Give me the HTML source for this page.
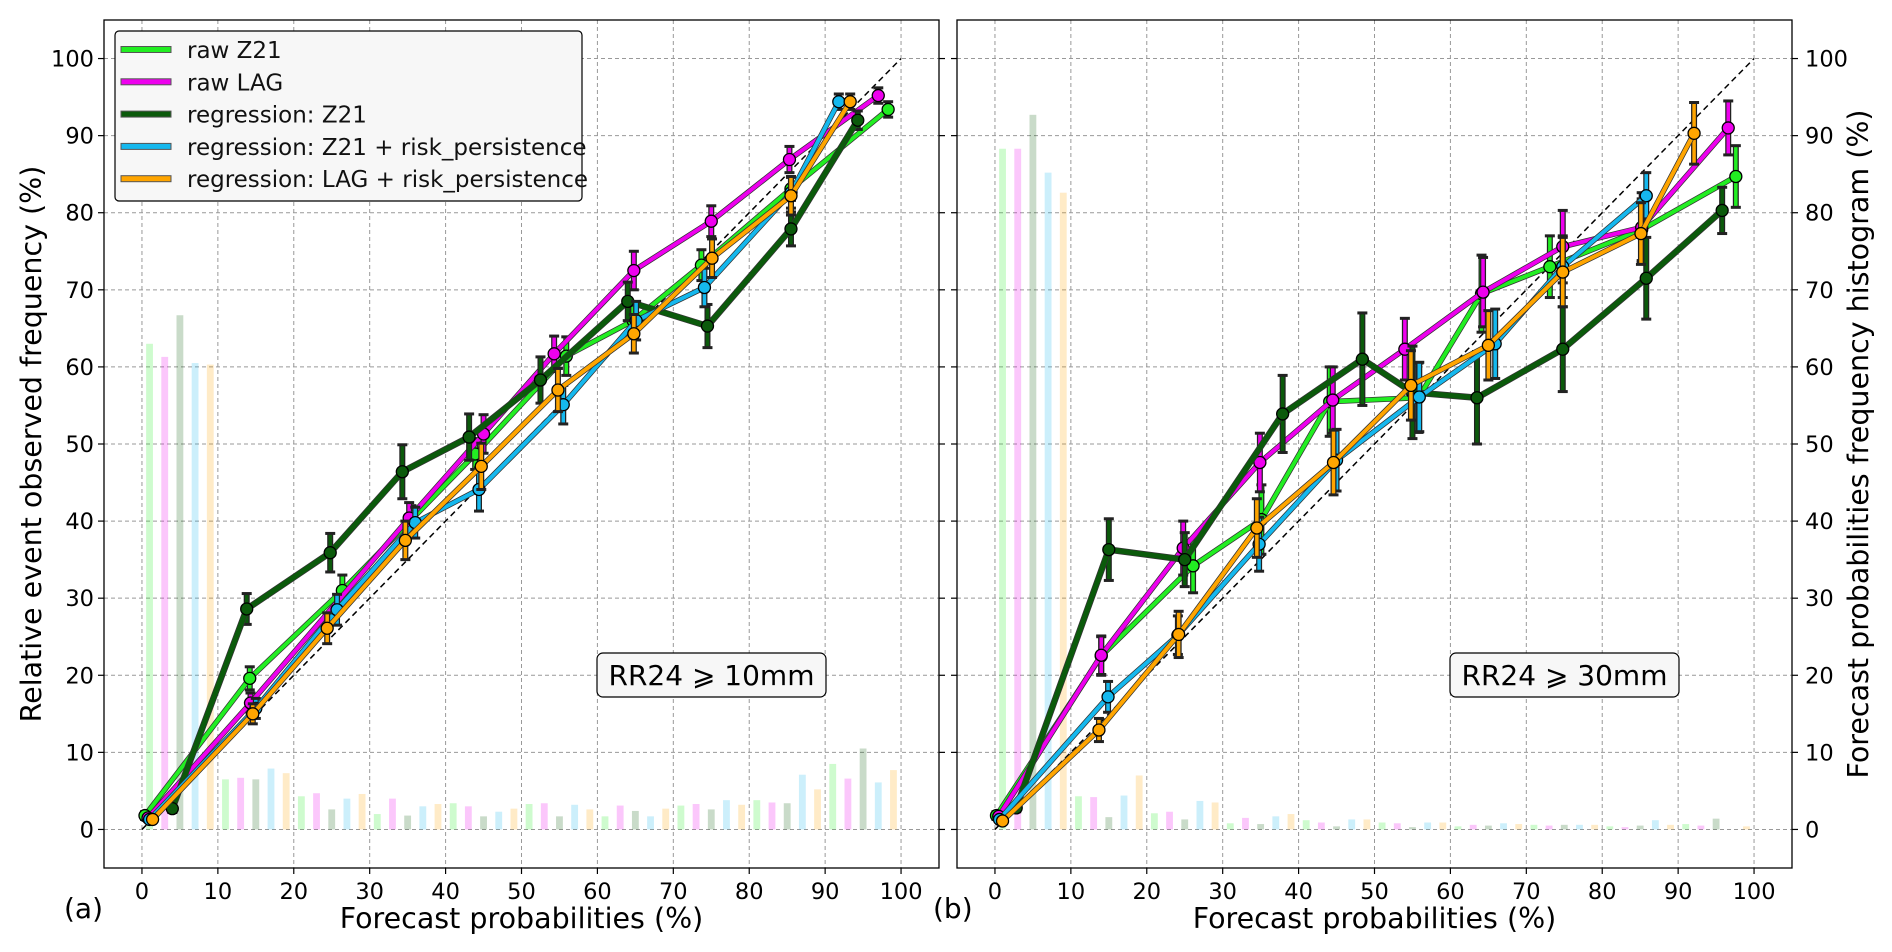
<!DOCTYPE html>
<html><head><meta charset="utf-8">
<style>
html,body{margin:0;padding:0;background:#fff;}
svg{display:block;font-family:"DejaVu Sans","Liberation Sans",sans-serif;}
</style></head>
<body>
<svg id="chart" width="1892" height="952" viewBox="0 0 1892 952" xmlns="http://www.w3.org/2000/svg"></svg>
<script>
// ---------- data ----------
const seriesNames = ["raw Z21","raw LAG","regression: Z21","regression: Z21 + risk_persistence","regression: LAG + risk_persistence"];
const seriesKeys = ["raw-z21","raw-lag","regression-z21","regression-z21-risk","regression-lag-risk"];
const binCenters = [0,10,20,30,40,50,60,70,80,90];

// panel a (RR24 >= 10mm)
const aHist0 = [63.0,6.5,4.3,2.0,3.4,3.3,1.7,3.1,3.8,8.5];
const aHist1 = [61.3,6.7,4.7,4.0,3.0,3.4,3.1,3.3,3.5,6.6];
const aHist2 = [66.7,6.5,2.6,1.8,1.7,1.7,2.4,2.6,3.4,10.5];
const aHist3 = [60.5,7.9,4.0,3.0,2.3,3.2,1.7,3.8,7.1,6.1];
const aHist4 = [60.3,7.3,4.6,3.3,2.7,2.6,2.7,3.2,5.2,7.7];

const aX0 = [0.4,14.2,26.4,35.5,43.9,55.9,64.7,73.7,85.5,98.3];
const aY0 = [1.8,19.6,31.0,40.2,48.7,61.4,66.0,73.2,83.1,93.4];
const aE0 = [0.5,1.5,2.0,1.8,2.0,2.5,2.0,2.0,1.5,1.0];
const aX1 = [0.8,14.3,35.2,45.0,54.3,64.8,75.0,85.3,97.0];
const aY1 = [1.5,16.4,40.4,51.3,61.7,72.5,78.9,86.9,95.2];
const aE1 = [0.3,1.3,2.0,2.5,2.3,2.5,2.0,1.7,1.0];
const aX2 = [4.0,13.8,24.8,34.3,43.1,52.5,64.0,74.5,85.5,94.3];
const aY2 = [2.7,28.6,35.9,46.4,50.9,58.3,68.5,65.3,77.9,92.0];
const aE2 = [0.5,2.0,2.5,3.5,3.0,3.0,2.5,2.8,2.2,1.2];
const aX3 = [1.0,15.0,25.7,36.0,44.4,55.5,65.1,74.1,85.5,91.8];
const aY3 = [1.3,15.7,28.5,39.8,44.1,55.1,66.0,70.3,82.6,94.4];
const aE3 = [0.3,1.3,2.0,2.0,2.8,2.5,2.5,2.5,2.0,1.0];
const aX4 = [1.4,14.6,24.4,34.7,44.7,54.8,64.8,75.1,85.5,93.3];
const aY4 = [1.3,15.0,26.1,37.5,47.1,57.0,64.3,74.1,82.2,94.4];
const aE4 = [0.3,1.3,2.0,2.5,3.0,2.8,2.5,2.5,2.5,1.0];

// panel b (RR24 >= 30mm)
const bHist0 = [88.3,4.3,2.1,0.8,1.2,0.9,0.4,0.6,0.4,0.7];
const bHist1 = [88.3,4.2,2.3,1.5,0.9,0.8,0.6,0.5,0.3,0.5];
const bHist2 = [92.7,1.6,1.3,0.7,0.4,0.3,0.5,0.6,0.5,1.4];
const bHist3 = [85.2,4.4,3.7,1.7,1.3,0.9,0.8,0.6,1.2,0.0];
const bHist4 = [82.6,7.0,3.5,2.0,1.3,0.9,0.7,0.6,0.6,0.4];

const bX0 = [0.2,14.0,26.1,35.1,44.1,55.8,64.1,73.1,85.2,97.6];
const bY0 = [1.8,22.5,34.2,40.2,55.5,56.0,69.5,73.0,77.8,84.7];
const bE0 = [0.5,2.5,3.5,4.5,4.5,4.5,5.0,4.0,4.0,4.0];
const bX1 = [0.5,14.0,24.8,34.9,44.5,54.0,64.3,74.8,85.2,96.6];
const bY1 = [1.7,22.6,36.5,47.6,55.7,62.3,69.7,75.6,78.1,91.0];
const bE1 = [0.3,2.5,3.5,3.8,4.3,4.0,4.5,4.7,4.5,3.5];
const bX2 = [2.8,15.0,25.0,37.9,48.4,55.0,63.5,74.8,85.8,95.8];
const bY2 = [2.8,36.3,35.0,53.9,61.0,56.7,56.0,62.3,71.5,80.3];
const bE2 = [0.5,4.0,3.5,5.0,6.0,6.0,6.0,5.5,5.3,3.0];
const bX3 = [0.6,14.9,24.1,34.8,45.0,55.9,65.9,74.8,85.8];
const bY3 = [1.3,17.2,25.2,37.0,47.9,56.1,63.0,73.0,82.2];
const bE3 = [0.3,2.0,2.5,3.5,4.0,4.5,4.5,4.0,3.0];
const bX4 = [1.0,13.7,24.2,34.5,44.6,54.8,65.0,74.8,85.1,92.1];
const bY4 = [1.1,12.9,25.3,39.1,47.6,57.6,62.8,72.3,77.3,90.3];
const bE4 = [0.3,1.5,3.0,3.8,4.2,4.5,4.5,4.5,4.0,4.0];

const ticks = [0,10,20,30,40,50,60,70,80,90,100];

// ---------- styling ----------
const colors = ["#22ee22","#ee00ee","#0b5a0b","#15b8ee","#ffa500"];
const lineW = [4,4,5,4,4];
const NS = "http://www.w3.org/2000/svg";
const svg = document.getElementById("chart");
function mk(tag, attrs, parent){const e=document.createElementNS(NS,tag);for(const k in attrs)e.setAttribute(k,attrs[k]);(parent||svg).appendChild(e);return e;}

function panel(cfg){
  const L=cfg.left,R=cfg.right,T=20,B=868;
  const sx=v=>L+(v+5)/110*(R-L);
  const sy=v=>B-(v+5)/110*(B-T);
  const g=mk("g",{});
  
  
  for(const t of ticks){
    const gx=mk("line",{x1:sx(t),x2:sx(t),y1:T,y2:B,stroke:"#999","stroke-width":1,"stroke-dasharray":"4,3"},g);
    
    
    const gy=mk("line",{x1:L,x2:R,y1:sy(t),y2:sy(t),stroke:"#999","stroke-width":1,"stroke-dasharray":"4,3"},g);
    
    
  }
  cfg.hists.forEach((h,si)=>{
    h.forEach((v,bi)=>{
      const xc=binCenters[bi]+1+2*si;
      const bw=0.9;
      const r=mk("rect",{x:sx(xc-bw/2),y:sy(v),width:sx(bw)-sx(0),height:sy(0)-sy(v),fill:colors[si],"fill-opacity":0.22},g);
      
      
    });
  });
  const d=mk("line",{x1:sx(0),y1:sy(0),x2:sx(100),y2:sy(100),stroke:"#000","stroke-width":1.5,"stroke-dasharray":"6,4"},g);
  
  
  cfg.series.forEach((s,si)=>{
    const sg=mk("g",{},g);
    
    
    s.x.forEach((xv,i)=>{
      const X=sx(xv),y1=sy(s.y[i]-s.e[i]),y2=sy(s.y[i]+s.e[i]);
      const eb=mk("g",{},sg);
      
      
      mk("line",{x1:X,x2:X,y1:y1+1,y2:y2-1,stroke:"#222","stroke-width":6},eb);
      mk("line",{x1:X,x2:X,y1:y1,y2:y2,stroke:colors[si],"stroke-width":3.5},eb);
      mk("line",{x1:X-5,x2:X+5,y1:y1,y2:y1,stroke:"#222","stroke-width":3},eb);
      mk("line",{x1:X-5,x2:X+5,y1:y2,y2:y2,stroke:"#222","stroke-width":3},eb);
    });
    const pts=s.x.map((xv,i)=>sx(xv)+","+sy(s.y[i])).join(" ");
    mk("polyline",{points:pts,fill:"none",stroke:"#333","stroke-width":lineW[si]+1.5,"stroke-linejoin":"round"},sg);
    const pl=mk("polyline",{points:pts,fill:"none",stroke:colors[si],"stroke-width":lineW[si],"stroke-linejoin":"round"},sg);
    
    
    s.x.forEach((xv,i)=>{
      const c=mk("circle",{cx:sx(xv),cy:sy(s.y[i]),r:6,fill:colors[si],stroke:"#000","stroke-width":1.3},sg);
      
      
    });
  });
  const fr=mk("rect",{x:L,y:T,width:R-L,height:B-T,fill:"none",stroke:"#000","stroke-width":1.3},g);
  
  
  for(const t of ticks){
    mk("line",{x1:sx(t),x2:sx(t),y1:B,y2:B+6,stroke:"#000","stroke-width":1.2},g);
    const tx=mk("text",{x:sx(t),y:B+31,"font-size":22.5,"text-anchor":"middle",fill:"#000"},g);
    tx.textContent=t;
    
    
    mk("line",{x1:L-6,x2:L,y1:sy(t),y2:sy(t),stroke:"#000","stroke-width":1.2},g);
    mk("line",{x1:R,x2:R+6,y1:sy(t),y2:sy(t),stroke:"#000","stroke-width":1.2},g);
    const ty=mk("text",{x:cfg.yTickRight?R+13:L-10,y:sy(t)+8,"font-size":22.5,"text-anchor":cfg.yTickRight?"start":"end",fill:"#000"},g);
    ty.textContent=t;
    
    
  }
  const xl=mk("text",{x:(sx(0)+sx(100))/2,y:928,"font-size":28.5,"text-anchor":"middle",fill:"#000"},g);
  xl.textContent="Forecast probabilities (%)";
  
  
  const pl=mk("text",{x:cfg.tagX,y:918,"font-size":28,fill:"#000"},g);
  pl.textContent=cfg.tag;
  
  
  const ag=mk("g",{},g);
  
  
  mk("rect",{x:cfg.annX,y:653,width:229,height:44,rx:6,fill:"#f7f7f7",stroke:"#000","stroke-width":1.2},ag);
  const at=mk("text",{x:cfg.annX+114.5,y:685,"font-size":28,"text-anchor":"middle",fill:"#000"},ag);
  at.textContent=cfg.ann;
}

function S(x,y,e){return {x:x,y:y,e:e};}
panel({name:"panel-a-rr24-10mm",left:104,right:939,hists:[aHist0,aHist1,aHist2,aHist3,aHist4],
  series:[S(aX0,aY0,aE0),S(aX1,aY1,aE1),S(aX2,aY2,aE2),S(aX3,aY3,aE3),S(aX4,aY4,aE4)],
  yTickRight:false,tag:"(a)",tagX:64,ann:"RR24 ⩾ 10mm",annX:597});
panel({name:"panel-b-rr24-30mm",left:957,right:1792,hists:[bHist0,bHist1,bHist2,bHist3,bHist4],
  series:[S(bX0,bY0,bE0),S(bX1,bY1,bE1),S(bX2,bY2,bE2),S(bX3,bY3,bE3),S(bX4,bY4,bE4)],
  yTickRight:true,tag:"(b)",tagX:933,ann:"RR24 ⩾ 30mm",annX:1450});

const yl=mk("text",{x:0,y:0,"font-size":28.5,"text-anchor":"middle",fill:"#000",transform:"translate(41,444) rotate(-90)"});
yl.textContent="Relative event observed frequency (%)";


const yr=mk("text",{x:0,y:0,"font-size":28.5,"text-anchor":"middle",fill:"#000",transform:"translate(1868,444) rotate(-90)"});
yr.textContent="Forecast probabilities frequency histogram (%)";



const lg=mk("g",{});


mk("rect",{x:115,y:31,width:467,height:170,rx:4,fill:"#f7f7f7",stroke:"#000","stroke-width":1.2},lg);
seriesNames.forEach((n,i)=>{
  const yy=49.5+i*32.3;
  const eg=mk("g",{},lg);
  
  
  mk("rect",{x:121,y:yy-3,width:50,height:6,fill:colors[i],stroke:"#555","stroke-width":1},eg);
  const t=mk("text",{x:187,y:yy+8.5,"font-size":23,fill:"#111"},eg);
  t.textContent=n;
});
</script>
</body></html>
